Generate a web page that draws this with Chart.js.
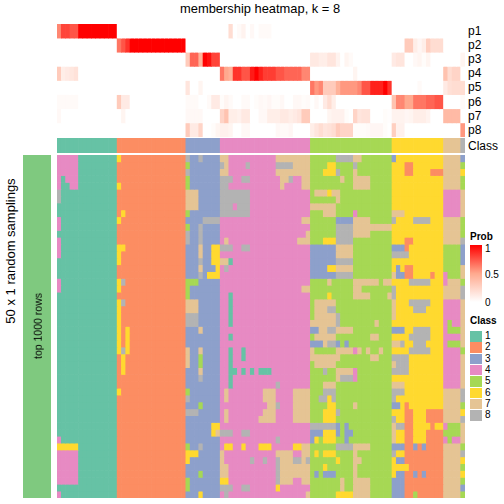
<!DOCTYPE html>
<html>
<head>
<meta charset="utf-8">
<title>membership heatmap</title>
<script src="https://cdn.jsdelivr.net/npm/chart.js@4"></script>
<style>
body { margin: 0; background: #fff; width: 504px; height: 504px; overflow: hidden; position: relative; font-family: "Liberation Sans", sans-serif; color: #000; }
canvas { position: absolute; display: block; }
.txt { position: absolute; white-space: nowrap; line-height: 1; z-index: 2; }
.rot { transform: translate(-50%, -50%) rotate(-90deg); }
.swatch { position: absolute; left: 470px; width: 12px; height: 10.5px; }
</style>
</head>
<body>
<div class="txt" style="left:180px;top:3px;font-size:12.9px">membership heatmap, k = 8</div>
<div class="txt rot" style="left:10px;top:251px;font-size:13px">50 x 1 random samplings</div>
<div class="txt rot" style="left:38px;top:326px;font-size:10.5px">top 1000 rows</div>

<div class="txt" style="left:470px;top:232px;font-size:10px;font-weight:bold">Prob</div>
<div style="position:absolute;left:470px;top:245px;width:12px;height:57px;background:linear-gradient(#ff0000,#ffa98e 50%,#ffffff)"></div>
<div class="txt" style="left:485px;top:244px;font-size:10px">1</div>
<div class="txt" style="left:485px;top:270px;font-size:10px">0.5</div>
<div class="txt" style="left:485px;top:298px;font-size:10px">0</div>
<div class="txt" style="left:470px;top:316px;font-size:10px;font-weight:bold">Class</div>
<div id="class-legend"></div>
<script>
const classColors = ['#66C2A5', '#FC8D62', '#8DA0CB', '#E78AC3', '#A6D854', '#FFD92F', '#E5C494', '#B3B3B3'];
const classLabels = ['1', '2', '3', '4', '5', '6', '7', '8'];
const probLabels = ['p1', 'p2', 'p3', 'p4', 'p5', 'p6', 'p7', 'p8'];
const groupSizes = [14, 16, 8, 21, 19, 12, 4, 1];

// membership probability per column, one line per class group
const p1 = [.6,.8,.8,.75,.75,1,1,1,1,1,1,1,1,1,
  0,0,0,0,0,0,0,0,0,0,0,0,0,0,0,0,
  0,0,0,0,0,0,0,0,
  0,0,.2,0,.03,.07,0,.04,0,.03,.03,.03,0,0,0,0,0,0,0,0,0,
  0,0,0,0,0,0,0,0,0,0,0,0,0,0,0,0,0,0,0,
  0,0,0,0,0,0,0,0,0,0,0,0,
  0,0,0,0,
  0];
const p2 = [0,0,0,0,0,0,0,0,0,0,0,0,0,0,
  .65,.75,.85,1,1,1,1,1,1,1,1,1,1,1,1,1,
  0,0,0,0,0,0,0,0,
  0,0,0,0,0,0,0,0,0,0,0,0,0,0,0,0,0,0,0,0,0,
  0,0,0,0,0,0,0,0,0,0,0,0,0,0,0,0,0,0,0,
  0,0,0,.3,.3,.1,.05,.1,.28,.2,.2,.2,
  0,0,0,0,
  0];
const p3 = [0,0,0,0,0,0,0,0,0,0,0,0,0,0,
  0,0,0,0,0,0,0,0,0,0,0,0,0,0,0,0,
  .3,.7,.7,.45,1,.95,.8,.8,
  0,0,0,0,0,0,0,0,0,0,0,0,0,0,0,0,0,0,0,0,0,
  .13,.13,.1,.1,.15,.15,.07,0,.06,.03,0,0,0,0,0,0,0,0,0,
  .12,.15,.15,0,0,.04,.06,.02,.06,0,0,0,
  0,0,0,0,
  .06];
const p4 = [.3,.1,.12,.14,.17,0,0,0,0,0,0,0,0,0,
  0,0,0,0,0,0,0,0,0,0,0,0,0,0,0,0,
  0,0,0,0,0,0,0,0,
  .65,.5,.45,.85,.85,.75,.75,.92,1,.9,.82,.82,.82,.75,.75,.7,.7,.7,.7,.6,.6,
  0,0,0,0,0,0,0,0,0,0,.06,0,0,0,0,0,0,0,0,
  0,0,0,0,0,0,0,0,0,0,0,0,
  .35,.2,.25,.25,
  0];
const p5 = [0,0,0,0,0,0,0,0,0,0,0,0,0,0,
  0,0,0,0,0,0,0,0,0,0,0,0,0,0,0,0,
  .15,0,0,.06,0,0,0,0,
  0,0,0,0,0,0,0,0,0,0,0,0,0,0,0,0,0,0,0,0,0,
  .65,.55,.6,.3,.3,.3,.45,.55,.55,.55,.55,.6,.75,.75,.9,.9,.9,1,.85,
  0,0,0,0,0,0,.03,0,0,0,0,0,
  .12,.18,.2,.2,
  .2];
const p6 = [.03,.03,.03,.03,.03,0,0,0,0,0,0,0,0,0,
  .3,.12,.12,0,0,0,0,0,0,0,0,0,0,0,0,0,
  .03,.03,.03,0,0,.03,.12,.12,
  .02,.06,.03,0,0,.03,.03,0,.02,.04,.03,.05,.02,.02,.04,0,0,.04,.04,.02,.03,
  0,.04,0,.12,.2,.1,0,0,0,0,0,0,0,0,0,0,0,0,0,
  .35,.6,.6,.5,.5,.65,.65,.65,.7,.7,.75,.75,
  0,0,0,0,
  .03];
const p7 = [.04,0,0,0,0,0,0,0,0,0,0,0,0,0,
  0,.06,0,0,0,0,0,0,0,0,0,0,0,0,0,0,
  .04,.04,.04,.04,0,0,0,0,
  .25,.35,.1,.1,.08,.13,.13,0,0,.04,.04,.1,.1,.1,.13,.13,.1,.12,.15,.3,.3,
  0,0,0,0,.06,.08,.08,.08,.02,0,.25,.15,.17,.17,0,0,0,.02,.01,
  .07,.07,.07,.05,.06,.1,.1,.1,.07,0,0,0,
  .4,.4,.4,.4,
  0];
const p8 = [0,0,0,0,0,0,0,0,0,0,0,0,0,0,
  0,0,0,0,0,0,0,0,0,0,0,0,0,0,0,0,
  .3,.12,.12,.25,0,0,.02,.06,
  .08,.08,.06,0,0,.04,.04,0,0,0,0,0,0,.04,.03,.03,.05,0,0,0,0,
  .1,.15,.2,.15,.17,.2,.3,.25,.25,.25,.02,.02,.02,.03,.05,.05,.05,.02,0,
  .28,.08,.08,0,0,0,0,0,0,0,0,0,
  0,0,0,0,
  .55];

// class called in each of the 50 samplings, split by the top class group
const group1 = ['44444111111111','44444111111111','44444111111111','41444111111111','41144111111111','81111111111111','81111111111111','11111111111111','11111111111111','41111111111111',
  '41111111111111','11111111111111','41111111111111','41111111111111','41111111111111','11111111111111','11111111111111','11111111111111','41111111111111','41111111111111',
  '11111111111111','11111111111111','11111111111111','11111111111111','11111111111111','11111111111111','11111111111111','11111111111111','11111111111111','11111111111111',
  '11111111111111','11111111111111','11111111111111','11111111111111','11111111111111','11111111111111','11111111111111','11111111111111','11111111111111','11111111111111',
  '11111111111111','41111111111111','66666111111111','44444111111111','44444111111111','44444111111111','44444111111111','44444111111111','11111111111111','41111111111111'];
const group2 = ['6222222222222222','2222222222222222','2222222222222222','2222222222222222','6222222222222222','2222222222222222','2222222222222222','2222222222222222','2622222222222222','6222222222222222',
  '2222222222222222','2222222222222222','2222222222222222','6622222222222222','6222222222222222','6222222222222222','2222222222222222','2222222222222222','6822222222222222','6222222222222222',
  '2222222222222222','6822222222222222','6222222222222222','6222222222222222','6222222222222222','6262222222222222','6262222222222222','6262222222222222','6862222222222222','2622222222222222',
  '2622222222222222','2622222222222222','2222222222222222','2222222222222222','6222222222222222','2222222222222222','2222222222222222','2222222222222222','2222222222222222','2222222222222222',
  '2222222222222222','2222222222222222','2222222222222222','2222222222222222','2222222222222222','2222222222222222','2222222222222222','2222222222222222','2222222222222222','2222222222222222'];
const group3 = ['83383333','53333333','83333333','53333333','53333333','77733333','77733333','77733333','53333333','33338888',
  '53383333','83383333','83383333','33373366','33373366','33383366','33373336','33383666','55533333','53333333',
  '53333333','77733333','77733333','88833333','88833333','33373333','33333333','33333333','73373333','73353333',
  '73353333','33373333','33383333','33333333','53333333','83333333','33353333','88833333','33333333','33333366',
  '33333367','33333333','53383333','66633333','63333333','33333333','33353333','53333333','53333333','33363333'];
const group4 = ['774444444444477777777','874444844444488887777','774444444444477777777','888448844444447784477','884444444444447444477','888888844444444444444','888888844444444444444','888488844444444444444','888888844444444444444','444444444444444444477',
  '444444444444444444444','444444444444444444447','474444444444444444777','888448844444444444444','444444444444444444444','771444444444444444444','484444444444444444444','444444444444444444444','444444444444444444444','444444444444444444477',
  '441444444444444444444','441444444444444444444','441444444444444444444','441444444444444444444','441444444444444444444','444444444444444444444','441444444444444444444','444444444444444444444','441441444444444444444','441441444444444444444',
  '441444444444444444444','441141414111444444444','441444444444444444444','441444444444484444444','474444444477744447777','474444444477744447777','444444444447784447777','474444444477744447777','474444444777744447777','444444444444444444444',
  '888448844444444444444','444444444444484444444','466446444666444446677','744444444444477774477','744444484484487778878','774444444444487777777','774444444444487777777','664444444444487774477','888448844444464444444','484444444444444444447'];
const group5 = ['5555558888775555555','5555665555855555555','5556668555755555555','5555555755777755555','5555555555777755555','5777677555555555555','5555557555555555555','7777775555555555555','5557775555455555555','5555553333777755555',
  '5555558888777777777','5555558888777755555','5556668888555555555','3333337777555555555','3333337777555555555','3333338888555555555','3333667777555555555','3333338888555555555','5555755555777777577','5555555555775555555',
  '5555655555777755557','5777775555555555555','5777885555555555555','5777778555555555555','7777778555555557555','3377887777555555555','5777775555555577555','3337883535555555555','7555557777475755755','7777777555555577555',
  '5777775555555555555','5558557777455555555','5555557888455555555','5557775555555555555','5558885555555555555','5588685555555555555','5555665555755555555','5556668555555555555','5556665555555555555','8888883535555555555',
  '3336663533555555555','3656665535555555555','5555558888777755555','5656665555755555555','5555556555775555555','5556555555755555555','5353335555755555555','5555555755777755555','5555555755777755555','5555556666777755555'];
const group6 = ['366666666666','666226666666','666226666222','666666666666','666666666666','666666666666','666666666666','666666666666','777666666666','866668888666',
  '666666666666','666666666666','666226666666','333266666666','888866666666','666666666666','636226666666','733226666266','666688888666','866666666666',
  '866666666666','766688888666','766668886666','766666666666','666666666666','333668888666','666688888666','778668886666','666688888666','888866666666',
  '788866666666','888866666666','666666666666','777666666666','888666666666','866666666666','336266666666','666226662222','866226662222','788226666266',
  '766226662222','766226662222','333223232222','866222222222','633222222222','666622222222','633223232222','333222222222','333222222222','333225222222'];
const group7 = ['7777','7777','7777','7777','7777','4444','4444','4444','4444','7777',
  '7777','7777','7777','5555','5555','5555','5555','4555','4777','7777',
  '7777','4444','4444','4444','4544','4555','4444','4555','4444','4444',
  '4444','4444','4444','4444','7777','7777','7777','7777','7777','4555',
  '5555','4544','7777','7777','7777','7777','7777','7777','7777','7777'];
const group8 = ['3','5','6','5','5','7','7','7','7','5',
  '5','5','8','3','3','3','7','7','5','8',
  '8','7','7','7','7','7','7','7','5','7',
  '7','7','7','7','8','8','5','6','8','7',
  '7','7','5','8','6','5','6','5','3','5'];

// white to red, same stops as the legend
function probColor(v) {
  const stops = [[255, 255, 255], [255, 169, 142], [255, 0, 0]];
  const t = v * 2;
  const a = stops[t < 1 ? 0 : 1];
  const b = stops[t < 1 ? 1 : 2];
  const f = t < 1 ? t : t - 1;
  return `rgb(${a.map((c, i) => Math.round(c + (b[i] - c) * f)).join(',')})`;
}

// one canvas holding a grid: one stacked dataset per row, one bar per column
function heatChart(left, top, width, height, nCols, nRows, colorAt) {
  const canvas = document.createElement('canvas');
  canvas.width = width;
  canvas.height = height;
  canvas.style.left = left + 'px';
  canvas.style.top = top + 'px';
  canvas.style.width = width + 'px';
  canvas.style.height = height + 'px';
  document.body.appendChild(canvas);

  const labels = Array.from({ length: nCols }, (_, c) => c);
  const datasets = [];
  for (let r = 0; r < nRows; r++) {
    datasets.push({
      data: labels.map(() => 1),
      backgroundColor: labels.map(c => colorAt(r, c)),
      borderWidth: 0,
      barPercentage: 1,
      categoryPercentage: 1
    });
  }
  return new Chart(canvas, {
    type: 'bar',
    data: { labels, datasets },
    options: {
      responsive: false,
      animation: false,
      layout: { padding: 0 },
      plugins: { legend: { display: false }, tooltip: { enabled: false }, title: { display: false } },
      scales: {
        x: { stacked: true, display: false },
        y: { stacked: true, display: false, reverse: true, min: 0, max: nRows }
      }
    }
  });
}

const probRows = [p1, p2, p3, p4, p5, p6, p7, p8];
const sampleRows = group1.map((_, r) =>
  group1[r] + group2[r] + group3[r] + group4[r] + group5[r] + group6[r] + group7[r] + group8[r]);
const topClass = groupSizes.flatMap((n, g) => Array.from({ length: n }, () => g));

heatChart(57, 24, 408, 113, 95, 8, (r, c) => probColor(probRows[r][c] || 0));
heatChart(57, 138, 408, 15, 95, 1, (r, c) => classColors[topClass[c]]);
heatChart(57, 155, 408, 343, 95, 50, (r, c) => classColors[Number(sampleRows[r][c]) - 1]);
heatChart(23, 155, 28, 343, 1, 1, () => '#7FC97F');

// row names on the right of the top block
probLabels.forEach((name, i) => {
  const el = document.createElement('div');
  el.className = 'txt';
  el.textContent = name;
  el.style.cssText = `left:468px;top:${25 + i * 14.1}px;font-size:12px`;
  document.body.appendChild(el);
});
const classEl = document.createElement('div');
classEl.className = 'txt';
classEl.textContent = 'Class';
classEl.style.cssText = 'left:468px;top:140px;font-size:12px';
document.body.appendChild(classEl);

// class legend
const legend = document.getElementById('class-legend');
classLabels.forEach((name, i) => {
  const y = 331 + i * 11.3;
  legend.innerHTML += `<div class="swatch" style="top:${y}px;background:${classColors[i]}"></div>` +
    `<div class="txt" style="left:485px;top:${y}px;font-size:10px">${name}</div>`;
});
</script>
</body>
</html>
